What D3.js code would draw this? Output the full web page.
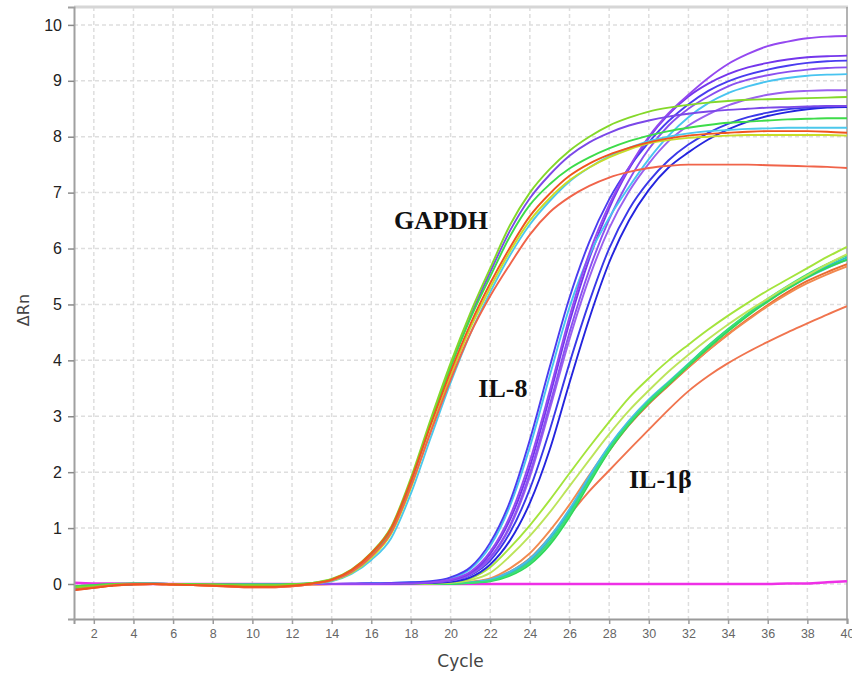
<!DOCTYPE html>
<html><head><meta charset="utf-8">
<script src="https://cdn.jsdelivr.net/npm/d3@7"></script>
<style>body{margin:0;background:#fff;} svg{display:block;}</style>
</head><body><svg id="chart" width="852" height="673"></svg>
<script>
// ---------- data (ΔRn per cycle, cycles 1..40) ----------
const cycles = [1,2,3,4,5,6,7,8,9,10,11,12,13,14,15,16,17,18,19,20,21,22,23,24,25,26,27,28,29,30,31,32,33,34,35,36,37,38,39,40];
const xTicks = [2,4,6,8,10,12,14,16,18,20,22,24,26,28,30,32,34,36,38,40];
const yTicks = [0,1,2,3,4,5,6,7,8,9,10];

// GAPDH
const gapdhLime   = [-0.06,-0.04,-0.01,0,0,0,-0.01,-0.01,-0.02,-0.02,-0.02,-0.01,0.02,0.09,0.26,0.56,1.02,1.9,2.95,3.95,4.85,5.65,6.42,7.0,7.42,7.75,8.0,8.2,8.34,8.45,8.52,8.57,8.61,8.64,8.66,8.67,8.68,8.69,8.7,8.71];
const gapdhPurple = [-0.09,-0.05,-0.02,0,0,0,0,-0.01,-0.01,-0.02,-0.02,-0.01,0.01,0.07,0.22,0.5,0.95,1.82,2.88,3.88,4.78,5.58,6.32,6.9,7.32,7.66,7.9,8.07,8.2,8.29,8.36,8.41,8.45,8.48,8.5,8.52,8.53,8.54,8.55,8.55];
const gapdhGreen  = [-0.04,-0.02,0,0.01,0.01,0,0,-0.01,-0.01,-0.01,-0.01,0,0.02,0.08,0.24,0.54,0.98,1.85,2.9,3.88,4.75,5.5,6.22,6.78,7.15,7.43,7.63,7.79,7.92,8.02,8.1,8.16,8.21,8.25,8.27,8.29,8.31,8.32,8.33,8.33];
const gapdhOrange = [-0.11,-0.07,-0.03,-0.01,0,-0.01,-0.02,-0.03,-0.04,-0.05,-0.05,-0.03,0.01,0.08,0.25,0.55,1.0,1.85,2.85,3.8,4.65,5.38,6.02,6.58,6.98,7.3,7.52,7.68,7.8,7.9,7.97,8.02,8.05,8.07,8.09,8.1,8.1,8.1,8.09,8.07];
const gapdhYellow = [-0.07,-0.04,-0.02,0,0,0,-0.01,-0.01,-0.01,-0.02,-0.02,-0.01,0.01,0.06,0.2,0.47,0.9,1.72,2.75,3.72,4.58,5.3,5.95,6.5,6.9,7.22,7.45,7.63,7.77,7.88,7.94,7.98,8.0,8.02,8.03,8.03,8.03,8.03,8.03,8.02];
const gapdhCyan   = [-0.05,-0.03,-0.01,0,0,0,0,-0.01,-0.01,-0.01,-0.01,0,0.01,0.05,0.18,0.43,0.82,1.62,2.62,3.6,4.48,5.22,5.88,6.43,6.85,7.2,7.45,7.65,7.8,7.92,8.0,8.06,8.1,8.12,8.14,8.15,8.16,8.16,8.16,8.16];
const gapdhSalmon = [-0.1,-0.06,-0.02,0,0,-0.01,-0.02,-0.03,-0.05,-0.06,-0.06,-0.04,0,0.07,0.22,0.5,0.92,1.75,2.72,3.65,4.48,5.15,5.72,6.25,6.65,6.92,7.12,7.27,7.37,7.44,7.48,7.5,7.5,7.5,7.5,7.49,7.48,7.47,7.46,7.44];

// IL-8
const il8Violet   = [-0.08,-0.05,-0.02,0,0.01,0,0,-0.01,-0.01,-0.01,-0.01,0,0,0,0,0,0.01,0.01,0.03,0.08,0.22,0.58,1.22,2.2,3.45,4.78,5.92,6.78,7.45,8.0,8.42,8.75,9.05,9.3,9.48,9.62,9.7,9.76,9.79,9.8];
const il8Blue     = [-0.1,-0.06,-0.02,0,0,0,0,-0.01,-0.01,-0.01,-0.01,0,0,0,0.01,0.01,0.02,0.03,0.05,0.12,0.3,0.74,1.48,2.58,3.88,5.12,6.12,6.88,7.45,7.9,8.28,8.58,8.82,8.99,9.11,9.2,9.27,9.32,9.35,9.36];
const il8Cyan     = [-0.05,-0.03,-0.01,0,0,0,0,0,-0.01,-0.01,-0.01,0,0,0,0,0.01,0.02,0.03,0.04,0.1,0.27,0.68,1.4,2.45,3.72,4.95,5.88,6.55,7.1,7.6,8.02,8.35,8.6,8.78,8.9,8.99,9.05,9.09,9.11,9.12];
const il8Purple   = [-0.07,-0.04,-0.01,0,0,0,-0.01,-0.01,-0.01,-0.02,-0.01,0,0,0,0,0.01,0.01,0.02,0.03,0.07,0.2,0.54,1.15,2.1,3.35,4.68,5.82,6.72,7.42,7.98,8.4,8.72,8.95,9.12,9.24,9.32,9.38,9.42,9.44,9.45];
const il8Purple2  = [-0.06,-0.03,-0.01,0,0,0,0,-0.01,-0.01,-0.01,-0.01,0,0,0,0,0,0.01,0.02,0.03,0.06,0.18,0.48,1.05,1.98,3.2,4.5,5.62,6.52,7.22,7.78,8.2,8.5,8.72,8.9,9.02,9.1,9.16,9.2,9.23,9.24];
const il8Lilac    = [-0.05,-0.03,0,0.01,0.01,0,0,0,-0.01,-0.01,-0.01,0,0,0,0,0,0.01,0.02,0.03,0.06,0.17,0.46,1.02,1.92,3.12,4.38,5.48,6.36,7.02,7.52,7.92,8.2,8.4,8.56,8.67,8.75,8.8,8.82,8.83,8.83];
const il8Navy     = [-0.09,-0.05,-0.02,0,0,0,0,-0.01,-0.01,-0.02,-0.01,0,0,0,0,0,0.01,0.01,0.02,0.04,0.12,0.35,0.78,1.45,2.4,3.6,4.75,5.75,6.5,7.05,7.45,7.72,7.95,8.13,8.27,8.37,8.44,8.49,8.52,8.53];
const il8Navy2    = [-0.08,-0.05,-0.02,0,0,0,-0.01,-0.01,-0.01,-0.02,-0.01,0,0,0,0,0.01,0.01,0.02,0.03,0.06,0.16,0.42,0.92,1.7,2.75,3.95,5.05,6.0,6.7,7.2,7.58,7.86,8.07,8.23,8.35,8.43,8.49,8.52,8.54,8.55];

// IL-1β
const il1bYg1     = [-0.07,-0.04,-0.02,0,0,0,-0.01,-0.01,-0.01,-0.02,-0.02,-0.01,0,0,0,0,0,0.01,0.01,0.03,0.1,0.3,0.65,1.05,1.5,1.98,2.45,2.9,3.33,3.68,4.0,4.28,4.55,4.8,5.03,5.25,5.45,5.65,5.85,6.03];
const il1bYg2     = [-0.05,-0.03,-0.01,0,0,0,0,-0.01,-0.01,-0.01,-0.01,0,0,0,0,0,0,0,0.01,0.02,0.07,0.2,0.5,0.86,1.28,1.75,2.22,2.68,3.1,3.46,3.8,4.1,4.38,4.64,4.88,5.1,5.32,5.52,5.72,5.9];
const il1bTeal    = [-0.06,-0.04,-0.01,0,0,0,0,-0.01,-0.01,-0.01,-0.01,0,0,0,0,0,0,0,0.01,0.01,0.03,0.07,0.2,0.42,0.8,1.3,1.9,2.45,2.9,3.28,3.6,3.92,4.25,4.55,4.82,5.07,5.3,5.5,5.68,5.84];
const il1bGreen   = [-0.08,-0.05,-0.02,0,0,0,-0.01,-0.01,-0.01,-0.02,-0.01,0,0,0,0,0,0,0,0,0.01,0.02,0.06,0.17,0.38,0.75,1.25,1.85,2.42,2.88,3.27,3.6,3.93,4.26,4.56,4.84,5.1,5.33,5.54,5.72,5.88];
const il1bGreen2  = [-0.04,-0.02,0,0.01,0,0,0,0,-0.01,-0.01,-0.01,0,0,0,0,0,0,0,0,0,0.02,0.05,0.15,0.35,0.7,1.2,1.8,2.38,2.85,3.24,3.57,3.9,4.22,4.52,4.8,5.05,5.28,5.49,5.66,5.8];
const il1bCyan    = [-0.06,-0.03,-0.01,0,0,0,0,-0.01,-0.01,-0.01,-0.01,0,0,0,0,0,0,0,0.01,0.01,0.03,0.08,0.22,0.45,0.84,1.34,1.93,2.47,2.92,3.3,3.62,3.94,4.26,4.55,4.82,5.06,5.28,5.48,5.65,5.8];
const il1bOrange  = [-0.1,-0.06,-0.03,-0.01,0,-0.01,-0.02,-0.03,-0.04,-0.05,-0.05,-0.03,-0.01,0,0,0,0,0,0.01,0.01,0.04,0.1,0.28,0.55,0.95,1.42,1.95,2.45,2.88,3.25,3.57,3.88,4.18,4.46,4.72,4.97,5.19,5.38,5.54,5.68];
const il1bOrange2 = [-0.09,-0.05,-0.02,0,0,-0.01,-0.02,-0.02,-0.03,-0.04,-0.04,-0.02,0,0,0,0,0,0,0.01,0.01,0.03,0.08,0.22,0.46,0.84,1.3,1.85,2.38,2.84,3.22,3.55,3.87,4.18,4.47,4.74,4.99,5.22,5.42,5.58,5.72];
const il1bSalmon  = [-0.11,-0.07,-0.03,-0.01,0,-0.01,-0.02,-0.03,-0.05,-0.06,-0.06,-0.04,-0.01,0,0,0,0,0,0,0.01,0.02,0.06,0.18,0.4,0.75,1.23,1.66,2.03,2.4,2.76,3.12,3.45,3.72,3.95,4.15,4.33,4.5,4.66,4.82,4.97];

// no-template control
const ntcMagenta  = [0.02,0.01,0.01,0,0,0,0,0,0,0,0,0,0,0,0,0,0,0,0,0,0,0,0,0,0,0,0,0,0,0,0,0,0,0,0,0,0.01,0.01,0.03,0.05];

const series = [
  {values: ntcMagenta,  color: "#ee30e6", w: 2.6},
  {values: il1bSalmon,  color: "#f0744e"},
  {values: il1bOrange2, color: "#e86a30"},
  {values: il1bOrange,  color: "#f28a50"},
  {values: il1bTeal,    color: "#2cc0c8"},
  {values: il1bCyan,    color: "#48bce8"},
  {values: il1bGreen2,  color: "#30d858"},
  {values: il1bGreen,   color: "#38e078"},
  {values: il1bYg2,     color: "#bce45a"},
  {values: il1bYg1,     color: "#a4e43c"},
  {values: il8Navy,     color: "#2424de"},
  {values: il8Navy2,    color: "#3a38e8"},
  {values: il8Lilac,    color: "#9a60f0"},
  {values: il8Purple2,  color: "#8a50f0"},
  {values: il8Purple,   color: "#7436ec"},
  {values: il8Cyan,     color: "#48c4f0"},
  {values: il8Blue,     color: "#4a3cf0"},
  {values: il8Violet,   color: "#9448f0"},
  {values: gapdhCyan,   color: "#4cc8ec"},
  {values: gapdhYellow, color: "#c8dc28"},
  {values: gapdhPurple, color: "#7b48e8"},
  {values: gapdhGreen,  color: "#3ddc4a"},
  {values: gapdhLime,   color: "#84d82a"},
  {values: gapdhSalmon, color: "#f0644a"},
  {values: gapdhOrange, color: "#f0541e"}
];

const labels = [
  {text: "GAPDH", cycle: 17.15, value: 6.35},
  {text: "IL-8",  cycle: 21.4, value: 3.35},
  {text: "IL-1β", cycle: 29.0, value: 1.71}
];

// ---------- chart ----------
const svg = d3.select("#chart");
const pL = 74, pR = 847, pT = 7, pB = 619;
const x = d3.scaleLinear().domain([1, 40]).range([pL, pR]);
const y = d3.scaleLinear().domain([-0.626, 10.32]).range([pB, pT]);

svg.append("defs").append("clipPath").attr("id","clip")
  .append("rect").attr("x", pL).attr("y", pT).attr("width", pR-pL).attr("height", pB-pT);

// grid
const grid = svg.append("g");
grid.selectAll("line.v").data(xTicks.filter(d => d < 40)).enter().append("line")
  .attr("class","v")
  .attr("x1", d => x(d)).attr("x2", d => x(d)).attr("y1", pT).attr("y2", pB)
  .attr("stroke", "#dedede").attr("stroke-width", 1.5).attr("stroke-dasharray", "4,3");
grid.selectAll("line.h").data(yTicks).enter().append("line")
  .attr("class","h")
  .attr("x1", pL).attr("x2", pR).attr("y1", d => y(d)).attr("y2", d => y(d))
  .attr("stroke", "#dedede").attr("stroke-width", 1.5).attr("stroke-dasharray", "4,3");

// border
svg.append("line").attr("x1", pL).attr("x2", pR+1).attr("y1", pT).attr("y2", pT)
  .attr("stroke", "#d6d6d6").attr("stroke-width", 3);
svg.append("line").attr("x1", pR).attr("x2", pR).attr("y1", pT).attr("y2", pB)
  .attr("stroke", "#9a9a9a").attr("stroke-width", 1.5);

// curves
const line = d3.line().x((d,i) => x(cycles[i])).y(d => y(d)).curve(d3.curveMonotoneX);
const plot = svg.append("g").attr("clip-path", "url(#clip)");
plot.selectAll("path").data(series).enter().append("path")
  .attr("d", d => line(d.values))
  .attr("fill", "none")
  .attr("stroke", d => d.color)
  .attr("stroke-width", d => d.w || 1.9)
  .attr("stroke-linejoin", "round");

// axes
const xAxis = svg.append("g").attr("transform", `translate(0,${pB})`)
  .call(d3.axisBottom(x).tickValues(xTicks).tickSize(5).tickPadding(5).tickFormat(d3.format("d")));
xAxis.select(".domain").attr("stroke", "#9a9a9a").attr("stroke-width", 2);
xAxis.selectAll(".tick line").attr("stroke", "#9a9a9a").attr("stroke-width", 1.5);
xAxis.selectAll("text").attr("font-family", "Liberation Sans, Arial, sans-serif")
  .attr("font-size", 12.5).attr("fill", "#666");

const yAxis = svg.append("g").attr("transform", `translate(${pL},0)`)
  .call(d3.axisLeft(y).tickValues(yTicks).tickSize(6).tickPadding(6).tickFormat(d3.format("d")));
yAxis.select(".domain").attr("stroke", "#a0a0a0").attr("stroke-width", 2);
yAxis.selectAll(".tick line").attr("stroke", "#8a8a8a").attr("stroke-width", 1.5);
yAxis.selectAll("text").attr("font-family", "Liberation Sans, Arial, sans-serif")
  .attr("font-size", 16).attr("fill", "#222");

// axis titles
svg.append("text").attr("x", (pL+pR)/2).attr("y", 667)
  .attr("text-anchor", "middle").attr("font-family", "DejaVu Sans, sans-serif")
  .attr("font-size", 17).attr("fill", "#444").text("Cycle");
svg.append("text").attr("transform", `translate(29,${y(4.9)}) rotate(-90)`)
  .attr("text-anchor", "middle").attr("font-family", "DejaVu Sans, sans-serif")
  .attr("font-size", 16).attr("fill", "#444").text("ΔRn");

// group labels
svg.selectAll("text.lab").data(labels).enter().append("text")
  .attr("class", "lab")
  .attr("x", d => x(d.cycle)).attr("y", d => y(d.value))
  .attr("font-family", "Liberation Serif, Times New Roman, serif")
  .attr("font-weight", "bold").attr("font-size", 26).attr("fill", "#111")
  .text(d => d.text);
</script>
</body></html>
